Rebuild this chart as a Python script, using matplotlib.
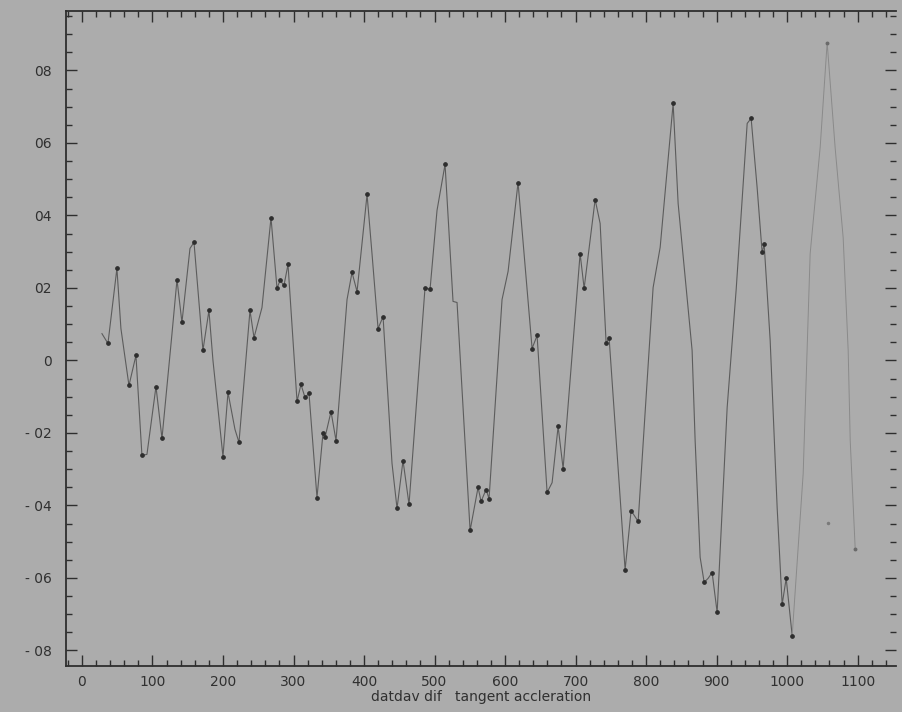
import numpy as np
import matplotlib.pyplot as plt
from matplotlib.ticker import MultipleLocator

# sample index and tangential acceleration (differenced)
frame = [28.4, 36.9, 49.6, 55.3, 66.7, 76.6, 85.1, 92.2, 105.0, 113.5,
         127.7, 134.8, 141.8, 153.2, 158.9, 171.6, 180.1, 185.8, 200.0, 207.1,
         217.0, 222.7, 238.3, 244.0, 255.3, 268.1, 276.6, 280.9, 286.5, 292.2,
         305.0, 310.6, 316.3, 322.0, 333.3, 341.8, 344.7, 353.2, 360.3, 375.9,
         383.0, 390.1, 404.3, 411.3, 419.9, 427.0, 439.7, 446.8, 455.3, 463.8,
         486.5, 493.6, 503.5, 514.9, 526.2, 531.9, 550.4, 561.7, 566.0, 573.0,
         577.3, 595.7, 604.3, 618.4, 638.3, 645.4, 659.6, 666.7, 675.2, 682.3,
         706.4, 712.1, 727.7, 734.8, 743.3, 747.5, 770.2, 778.7, 788.7, 809.9,
         819.9, 838.3, 845.4, 865.2, 869.5, 876.6, 882.3, 887.9, 893.6, 900.7,
         914.9, 927.7, 943.3, 948.9, 957.4, 964.5, 967.4, 975.9, 985.8, 992.9,
         998.6, 1007.1, 1022.7, 1032.6, 1046.8, 1056.7, 1068.1, 1079.4, 1086.5,
         1089.4, 1096.5]
accel = [0.074, 0.047, 0.254, 0.088, -0.069, 0.014, -0.262, -0.259, -0.072, -0.215,
         0.074, 0.223, 0.105, 0.309, 0.326, 0.028, 0.138, 0.0, -0.265, -0.088,
         -0.19, -0.226, 0.138, 0.063, 0.146, 0.394, 0.199, 0.221, 0.207, 0.265,
         -0.113, -0.066, -0.102, -0.091, -0.378, -0.201, -0.212, -0.141, -0.221, 0.168,
         0.243, 0.19, 0.458, 0.295, 0.088, 0.121, -0.284, -0.408, -0.276, -0.397,
         0.201, 0.196, 0.414, 0.541, 0.163, 0.16, -0.469, -0.35, -0.389, -0.356,
         -0.381, 0.168, 0.246, 0.491, 0.033, 0.069, -0.364, -0.337, -0.182, -0.298,
         0.295, 0.199, 0.444, 0.378, 0.047, 0.063, -0.577, -0.414, -0.444, 0.201,
         0.312, 0.709, 0.433, 0.028, -0.221, -0.543, -0.612, -0.601, -0.585, -0.695,
         -0.13, 0.196, 0.654, 0.668, 0.477, 0.298, 0.32, 0.055, -0.406, -0.673,
         -0.601, -0.759, -0.312, 0.295, 0.588, 0.877, 0.585, 0.339, 0.028,
         -0.221, -0.521]

stray_x = [1058.0]
stray_y = [-0.447]

xticks = [0, 100, 200, 300, 400, 500, 600, 700, 800, 900, 1000, 1100]
yticks = [0.8, 0.6, 0.4, 0.2, 0.0, -0.2, -0.4, -0.6, -0.8]
ytick_labels = ['08', '06', '04', '02', '0', '- 02', '- 04', '- 06', '- 08']

paper = '#acacac'
ink = '#2e2e2e'

x = np.array(frame)
y = np.array(accel)

# turning points get a dot, like the plotter did
turn = np.zeros(len(y), dtype=bool)
turn[1:-1] = ((y[1:-1] > y[:-2]) & (y[1:-1] > y[2:])) | ((y[1:-1] < y[:-2]) & (y[1:-1] < y[2:]))
turn[-1] = True

fig = plt.figure(figsize=(9.03, 7.12), dpi=100)
fig.patch.set_facecolor(paper)
ax = fig.add_axes([0.073, 0.064, 0.919, 0.921])
ax.set_facecolor(paper)

# last swing came out faint on the paper
fade = np.searchsorted(x, 1007.1)
ax.plot(x[:fade + 1], y[:fade + 1], color='#5c5c5c', lw=0.8)
ax.plot(x[fade:], y[fade:], color='#8a8a8a', lw=0.7)
ax.plot(x[turn & (x <= 1007.1)], y[turn & (x <= 1007.1)], 'o', ms=2.4, color=ink)
ax.plot(x[turn & (x > 1007.1)], y[turn & (x > 1007.1)], 'o', ms=1.8, color='#6a6a6a')
ax.plot(stray_x, stray_y, 'o', ms=1.5, color='#7a7a7a')

ax.set_xlim(-22.7, 1154)
ax.set_ylim(-0.844, 0.965)

ax.set_xticks(xticks)
ax.set_xticklabels([str(t) for t in xticks])
ax.xaxis.set_minor_locator(MultipleLocator(20))
ax.set_yticks(yticks)
ax.set_yticklabels(ytick_labels)
ax.yaxis.set_minor_locator(MultipleLocator(0.05))

ax.tick_params(which='both', direction='in', top=True, right=True, colors=ink)
ax.tick_params(which='major', length=8, width=1.0, labelsize=10, labelcolor='#303030')
ax.tick_params(which='minor', length=4, width=1.0)
ax.tick_params(axis='y', pad=10)
ax.tick_params(axis='x', pad=6)

for side in ['left', 'bottom', 'top']:
    ax.spines[side].set_color(ink)
    ax.spines[side].set_linewidth(1.3)
ax.spines['right'].set_visible(False)

ax.set_xlabel('datdav dif   tangent accleration', fontsize=10, color='#303030', labelpad=1)

fig.savefig('out.png', dpi=100, facecolor=paper)
